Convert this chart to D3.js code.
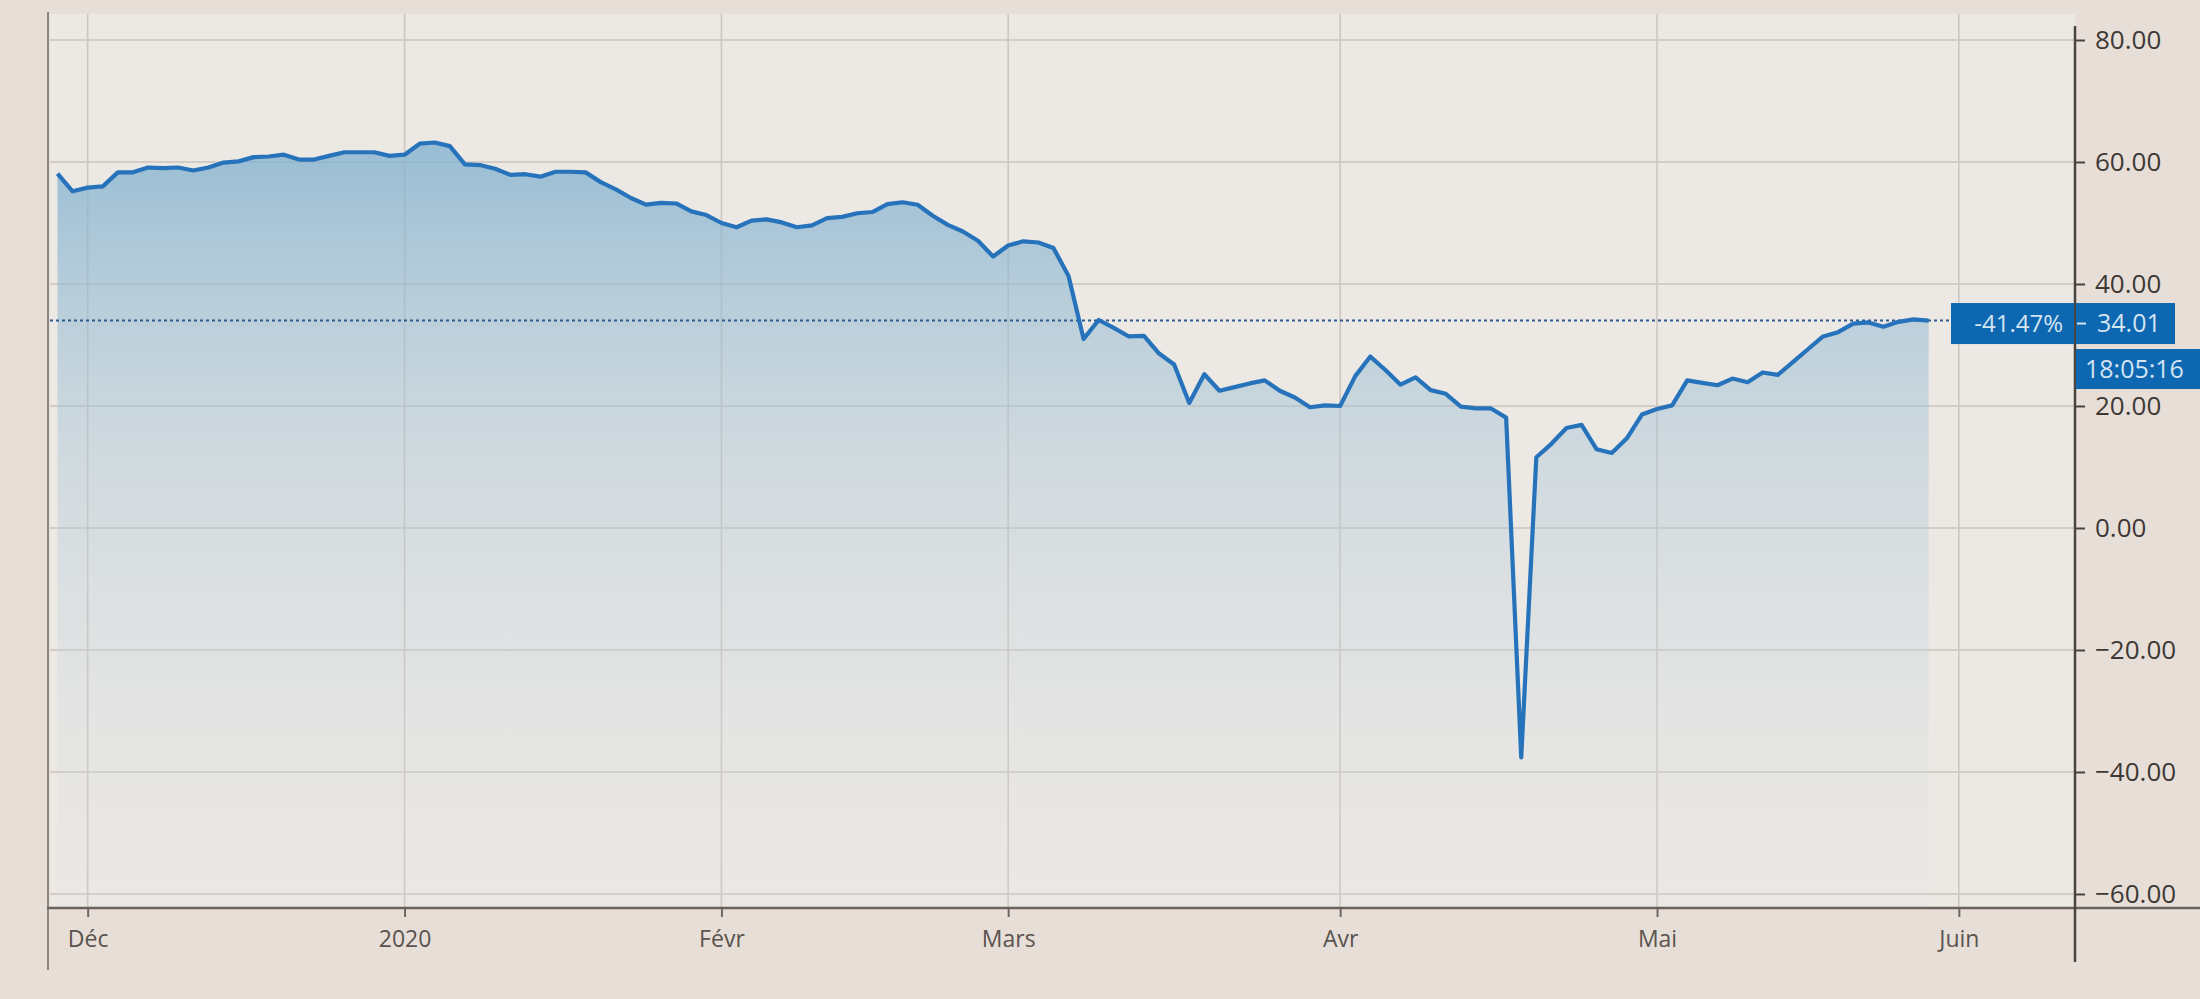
<!DOCTYPE html>
<html>
<head>
<meta charset="utf-8">
<script src="https://cdn.jsdelivr.net/npm/d3@7"></script>
<style>
  html, body { margin: 0; padding: 0; background: #e8e1da; }
  svg { display: block; }
</style>
</head>
<body>
<svg id="chart" width="2200" height="999"></svg>
<script>
// ---- DATA ----
const dates = [
  "2019-11-27","2019-11-29","2019-12-02","2019-12-03","2019-12-04","2019-12-05","2019-12-06","2019-12-09","2019-12-10","2019-12-11",
  "2019-12-12","2019-12-13","2019-12-16","2019-12-17","2019-12-18","2019-12-19","2019-12-20","2019-12-23","2019-12-24","2019-12-26",
  "2019-12-27","2019-12-30","2019-12-31","2020-01-02","2020-01-03","2020-01-06","2020-01-07","2020-01-08","2020-01-09","2020-01-10",
  "2020-01-13","2020-01-14","2020-01-15","2020-01-16","2020-01-17","2020-01-21","2020-01-22","2020-01-23","2020-01-24","2020-01-27",
  "2020-01-28","2020-01-29","2020-01-30","2020-01-31","2020-02-03","2020-02-04","2020-02-05","2020-02-06","2020-02-07","2020-02-10",
  "2020-02-11","2020-02-12","2020-02-13","2020-02-14","2020-02-18","2020-02-19","2020-02-20","2020-02-21","2020-02-24","2020-02-25",
  "2020-02-26","2020-02-27","2020-02-28","2020-03-02","2020-03-03","2020-03-04","2020-03-05","2020-03-06","2020-03-09","2020-03-10",
  "2020-03-11","2020-03-12","2020-03-13","2020-03-16","2020-03-17","2020-03-18","2020-03-19","2020-03-20","2020-03-23","2020-03-24",
  "2020-03-25","2020-03-26","2020-03-27","2020-03-30","2020-03-31","2020-04-01","2020-04-02","2020-04-03","2020-04-06","2020-04-07",
  "2020-04-08","2020-04-09","2020-04-13","2020-04-14","2020-04-15","2020-04-16","2020-04-17","2020-04-20","2020-04-21","2020-04-22",
  "2020-04-23","2020-04-24","2020-04-27","2020-04-28","2020-04-29","2020-04-30","2020-05-01","2020-05-04","2020-05-05","2020-05-06",
  "2020-05-07","2020-05-08","2020-05-11","2020-05-12","2020-05-13","2020-05-14","2020-05-15","2020-05-18","2020-05-19","2020-05-20",
  "2020-05-21","2020-05-22","2020-05-26","2020-05-27","2020-05-28"
];
const prices = [
  58.1, 55.2, 55.8, 56.0, 58.3, 58.3, 59.1, 59.0, 59.1, 58.6,
  59.1, 59.9, 60.1, 60.8, 60.9, 61.2, 60.4, 60.4, 61.0, 61.6,
  61.6, 61.6, 61.0, 61.2, 63.0, 63.2, 62.6, 59.6, 59.5, 58.9,
  57.9, 58.0, 57.6, 58.4, 58.4, 58.3, 56.7, 55.5, 54.1, 53.0,
  53.3, 53.2, 51.9, 51.3, 50.0, 49.3, 50.4, 50.6, 50.1, 49.3,
  49.6, 50.8, 51.0, 51.6, 51.8, 53.1, 53.4, 53.0, 51.2, 49.7,
  48.6, 47.1, 44.5, 46.3, 47.0, 46.8, 45.9, 41.3, 31.0, 34.1,
  32.8, 31.4, 31.5, 28.6, 26.8, 20.5, 25.2, 22.5, 23.1, 23.7,
  24.2, 22.5, 21.4, 19.8, 20.1, 20.0, 24.9, 28.1, 25.9, 23.5,
  24.7, 22.6, 22.0, 19.9, 19.6, 19.6, 18.1, -37.6, 11.6, 13.8,
  16.4, 16.9, 12.9, 12.3, 14.7, 18.6, 19.5, 20.1, 24.2, 23.8,
  23.4, 24.5, 23.9, 25.5, 25.1, 27.2, 29.3, 31.4, 32.1, 33.5,
  33.7, 33.0, 33.8, 34.2, 34.01
];
// future trading days shown on the time axis (no values yet)
const futureDates = ["2020-05-29","2020-06-01","2020-06-02","2020-06-03","2020-06-04","2020-06-05","2020-06-08","2020-06-09","2020-06-10"];

const monthTickDates  = ["2019-12-02","2020-01-02","2020-02-03","2020-03-02","2020-04-01","2020-05-01","2020-06-01"];
const monthTickLabels = ["Déc","2020","Févr","Mars","Avr","Mai","Juin"];
const yTickValues = [80, 60, 40, 20, 0, -20, -40, -60];

const lastValueLabel = "34.01";
const changeLabel = "-41.47%";
const timeLabel = "18:05:16";

// ---- LAYOUT ----
const W = 2200, H = 999;
const plotLeft = 50, plotRight = 2075, plotTop = 14, axisY = 908;

const svg = d3.select("#chart");

const allDays = dates.concat(futureDates);
const x = d3.scalePoint().domain(allDays).range([57.5, 57.5 + 15.09 * (allDays.length - 1)]);
const y = d3.scaleLinear().domain([-60, 80]).range([894, 40]);

const data = dates.map((d, i) => ({ d, v: prices[i] }));

// backgrounds
svg.append("rect").attr("x", 0).attr("y", 0).attr("width", W).attr("height", H).attr("fill", "#e7dfd7");
svg.append("rect").attr("x", plotLeft).attr("y", plotTop).attr("width", plotRight - plotLeft).attr("height", axisY - plotTop).attr("fill", "#ece8e4");

// gradient
const defs = svg.append("defs");
const grad = defs.append("linearGradient").attr("id", "areaGrad")
  .attr("gradientUnits", "userSpaceOnUse").attr("x1", 0).attr("y1", 130).attr("x2", 0).attr("y2", axisY);
grad.append("stop").attr("offset", "0%").attr("stop-color", "#7fb0cf").attr("stop-opacity", 0.8);
grad.append("stop").attr("offset", "40%").attr("stop-color", "#a9c6d8").attr("stop-opacity", 0.45);
grad.append("stop").attr("offset", "100%").attr("stop-color", "#dfe4e6").attr("stop-opacity", 0.1);

// horizontal gridlines
svg.append("g").selectAll("line").data(yTickValues).join("line")
  .attr("x1", plotLeft).attr("x2", plotRight)
  .attr("y1", d => y(d)).attr("y2", d => y(d))
  .attr("stroke", "#cbc4bd").attr("stroke-width", 1.6);

// vertical gridlines at month starts
svg.append("g").selectAll("line").data(monthTickDates).join("line")
  .attr("x1", d => x(d)).attr("x2", d => x(d))
  .attr("y1", plotTop).attr("y2", axisY)
  .attr("stroke", "#cdc6bf").attr("stroke-width", 1.6);

// area
const area = d3.area().x(p => x(p.d)).y0(axisY).y1(p => y(p.v)).curve(d3.curveLinear);
svg.append("path").datum(data).attr("d", area).attr("fill", "url(#areaGrad)");

// last-value dotted line
const lastY = y(prices[prices.length - 1]);
svg.append("line").attr("x1", plotLeft).attr("x2", 1951).attr("y1", lastY).attr("y2", lastY)
  .attr("stroke", "#2d5d8f").attr("stroke-width", 2).attr("stroke-dasharray", "3,3");

// line
const line = d3.line().x(p => x(p.d)).y(p => y(p.v)).curve(d3.curveLinear);
svg.append("path").datum(data).attr("d", line).attr("fill", "none")
  .attr("stroke", "#2673bb").attr("stroke-width", 4.2).attr("stroke-linejoin", "round");

// left border
svg.append("line").attr("x1", plotLeft - 2).attr("x2", plotLeft - 2).attr("y1", 12).attr("y2", 970)
  .attr("stroke", "#8f8680").attr("stroke-width", 2);

// bottom axis
const xAxis = d3.axisBottom(x).tickValues(monthTickDates)
  .tickFormat((d, i) => monthTickLabels[i]).tickSize(9).tickPadding(14);
const gx = svg.append("g").attr("transform", `translate(0,${axisY})`).call(xAxis);
gx.select(".domain").remove();
gx.selectAll(".tick line").attr("stroke", "#6f6761").attr("stroke-width", 2);
gx.selectAll(".tick text").attr("fill", "#5a534f").style("font-family", "'Open Sans', 'DejaVu Sans', sans-serif").style("font-size", "23px");
svg.append("line").attr("x1", plotLeft - 3).attr("x2", W).attr("y1", axisY).attr("y2", axisY)
  .attr("stroke", "#6a625c").attr("stroke-width", 2.5);

// right axis
const yAxis = d3.axisRight(y).tickValues(yTickValues).tickFormat(d3.format(".2f")).tickSize(10).tickPadding(10);
const gy = svg.append("g").attr("transform", `translate(${plotRight},0)`).call(yAxis);
gy.select(".domain").remove();
gy.selectAll(".tick line").attr("stroke", "#4a4440").attr("stroke-width", 2);
gy.selectAll(".tick text").attr("fill", "#3e3835").style("font-family", "'Open Sans', 'DejaVu Sans', sans-serif").style("font-size", "26px");
svg.append("line").attr("x1", plotRight).attr("x2", plotRight).attr("y1", 26).attr("y2", 962)
  .attr("stroke", "#4a4440").attr("stroke-width", 2.5);

// value labels
const boxColor = "#0d67b1", boxText = "#d3e4f2";
const bh = 41;
svg.append("rect").attr("x", 1951).attr("y", lastY - bh / 2 + 3).attr("width", plotRight - 1951 - 1).attr("height", bh).attr("fill", boxColor);
svg.append("text").attr("x", plotRight - 12).attr("y", lastY + 3).attr("dy", "0.35em").attr("text-anchor", "end")
  .attr("fill", boxText).style("font-family", "'Open Sans', 'DejaVu Sans', sans-serif").style("font-size", "24px").text(changeLabel);
svg.append("rect").attr("x", plotRight + 1).attr("y", lastY - bh / 2 + 3).attr("width", 2174 - plotRight).attr("height", bh).attr("fill", boxColor);
svg.append("line").attr("x1", plotRight + 2).attr("x2", plotRight + 11).attr("y1", lastY + 3).attr("y2", lastY + 3)
  .attr("stroke", boxText).attr("stroke-width", 2);
svg.append("text").attr("x", plotRight + 22).attr("y", lastY + 3).attr("dy", "0.35em")
  .attr("fill", boxText).style("font-family", "'Open Sans', 'DejaVu Sans', sans-serif").style("font-size", "25px").text(lastValueLabel);
svg.append("rect").attr("x", plotRight + 1).attr("y", lastY - bh / 2 + 3 + bh + 5).attr("width", W - plotRight).attr("height", 40).attr("fill", boxColor);
svg.append("text").attr("x", plotRight + 10).attr("y", lastY + 3 + bh + 5).attr("dy", "0.35em")
  .attr("fill", boxText).style("font-family", "'Open Sans', 'DejaVu Sans', sans-serif").style("font-size", "25px").text(timeLabel);
</script>
</body>
</html>
